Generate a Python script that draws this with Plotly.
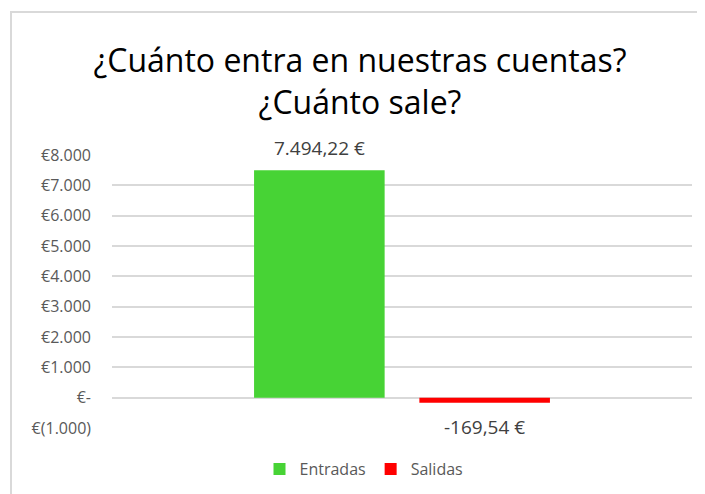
import plotly.graph_objects as go

# ---- data ----
category = ["Total"]
series_names = ["Entradas", "Salidas"]
series_values = [7494.22, -169.54]
series_colors = ["#47D335", "#FF0000"]
value_labels = ["7.494,22 €", "-169,54 €"]
tick_vals = [-1000, 0, 1000, 2000, 3000, 4000, 5000, 6000, 7000, 8000]
tick_text = ["€(1.000)", "€-", "€1.000", "€2.000", "€3.000", "€4.000",
             "€5.000", "€6.000", "€7.000", "€8.000"]
title_lines = ["¿Cuánto entra en nuestras cuentas?", "¿Cuánto sale?"]

OFF = 8  # page body margin
W, H = 705, 494
# plot area in screen pixels: x 112..692, y 155..428
L = 112 - OFF
T = 155 - OFF
R = W - (692 - OFF)
B = H - (428 - OFF)
BARGAP = 0.43
BARGROUPGAP = 0.21

fig = go.Figure()
for name, val, col in zip(series_names, series_values, series_colors):
    fig.add_trace(go.Bar(x=category, y=[val], name=name, marker_color=col,
                         marker_line_width=0, hoverinfo="skip"))

# data labels positioned over each bar of the group
n = len(series_names)
slot = (1 - BARGAP) / n
for i, (val, lab) in enumerate(zip(series_values, value_labels)):
    xoff = -(1 - BARGAP) / 2 + slot * (i + 0.5)
    fig.add_annotation(x=xoff, y=val, xref="x", yref="y", text=lab,
                       showarrow=False, yanchor="middle",
                       yshift=22 if val >= 0 else -24,
                       font=dict(family="Open Sans", size=19, color="#404040"))

pw, ph = W - L - R, H - T - B
def px_x(p):  # screen px -> paper
    return (p - OFF - L) / pw
def px_y(p):
    return (H - B - (p - OFF)) / ph

# chart frame (cropped)
fig.add_shape(type="line", xref="paper", yref="paper",
              x0=px_x(10), x1=px_x(720), y0=px_y(12), y1=px_y(12),
              line=dict(color="#D9D9D9", width=2))
fig.add_shape(type="line", xref="paper", yref="paper",
              x0=px_x(11), x1=px_x(11), y0=px_y(12), y1=px_y(520),
              line=dict(color="#D9D9D9", width=2))

fig.update_layout(
    width=W, height=H,
    margin=dict(l=L, r=R, t=T, b=B),
    paper_bgcolor="white", plot_bgcolor="white",
    barmode="group", bargap=BARGAP, bargroupgap=BARGROUPGAP,
    title=dict(text="<br>".join(title_lines), x=(360 - OFF) / W, xanchor="center",
               y=1 - 64 / H, yanchor="middle",
               font=dict(family="Open Sans", size=32, color="#000000")),
    showlegend=True,
    legend=dict(orientation="h", x=px_x(364), xanchor="center",
                y=px_y(469), yanchor="middle",
                font=dict(family="Open Sans", size=16, color="#595959"),
                itemwidth=30, traceorder="normal"),
    xaxis=dict(showticklabels=False, showgrid=False, zeroline=False,
               showline=False, ticks=""),
    yaxis=dict(range=[-1000, 8000], tickvals=tick_vals, ticktext=tick_text,
               showgrid=True, gridcolor="#D9D9D9", gridwidth=1.5,
               zeroline=True, zerolinecolor="#D9D9D9", zerolinewidth=1.5,
               showline=False, ticks="", ticklabelstandoff=20,
               tickfont=dict(family="Open Sans", size=16, color="#595959")),
)

fig.write_html("out.html")
